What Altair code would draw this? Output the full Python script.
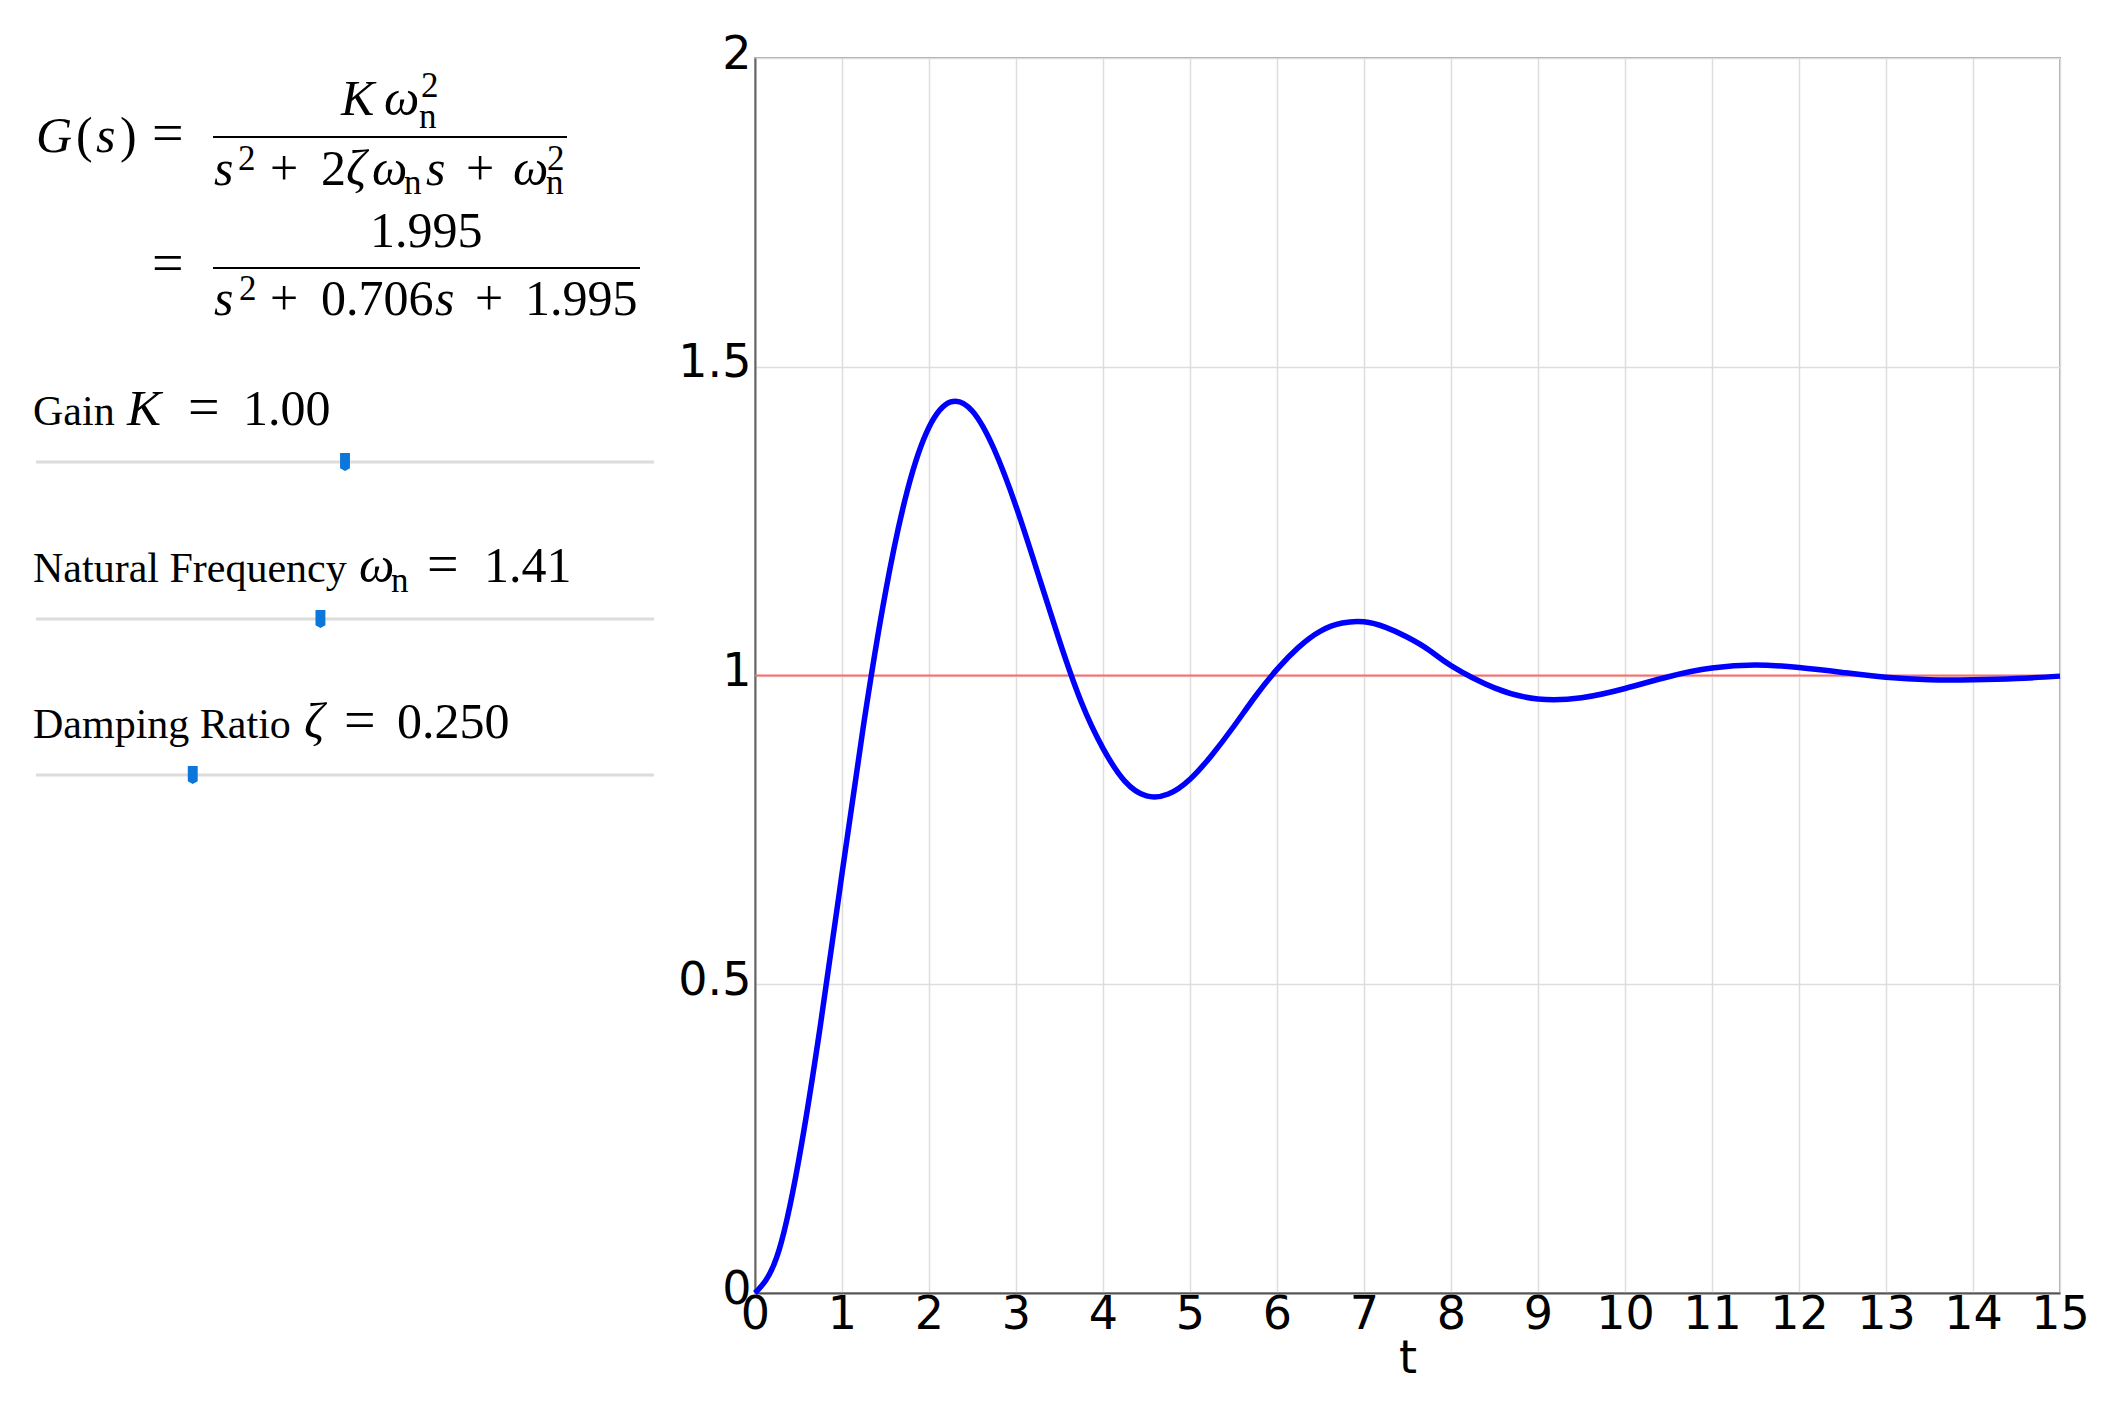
import altair as alt
import pandas as pd

# ---- step response (t in s, output y) ----
T = [0, 0.25, 0.5, 0.75, 1.0, 1.25, 1.5, 1.75, 2.0, 2.25, 2.5, 2.75, 3.0, 3.25, 3.5,
     3.75, 4.0, 4.25, 4.5, 4.75, 5.0, 5.25, 5.5, 5.75, 6.0, 6.25, 6.5, 6.75, 7.0,
     7.25, 7.5, 7.75, 8.0, 8.5, 9.0, 9.5, 10.0, 10.5, 11.0, 11.5, 12.0, 12.5, 13.0,
     13.5, 14.0, 14.5, 15.0]
Y = [0.0, 0.058, 0.213, 0.432, 0.679, 0.922, 1.135, 1.299, 1.402, 1.443, 1.428, 1.366,
     1.274, 1.166, 1.056, 0.957, 0.882, 0.829, 0.805, 0.808, 0.832, 0.871, 0.917, 0.966,
     1.010, 1.046, 1.072, 1.085, 1.087, 1.078, 1.062, 1.041, 1.016, 0.980, 0.962, 0.964,
     0.979, 0.998, 1.012, 1.017, 1.013, 1.005, 0.997, 0.993, 0.993, 0.995, 0.999]
REF = [1.0]

X_TICKS = list(range(16))
Y_TICKS = [0, 0.5, 1, 1.5, 2]

# ---- slider values ----
SLIDER_VALUES = [1.00, 1.41, 0.250]
SLIDER_MIN = [0.0, 0.1, 0.0]
SLIDER_MAX = [2.0, 2.95, 1.0]

# ---- layout (page pixels) ----
PLOT_W, PLOT_H = 1305, 1235
OX, OY = 755, 58
TRACK_X0, TRACK_X1 = 36, 654
TRACK_Y = [462, 619, 775]
THUMB_W = 9

MATH = 50
SCRIPT = 35
TEXT = 42

# (text, page x, page baseline y, font size)
ITALIC = [
    ("G", 36, 152, MATH), ("s", 96, 152, MATH),
    ("K", 341, 115, MATH), ("ω", 384, 115, MATH),
    ("s", 214, 185, MATH), ("ζ", 346, 185, MATH), ("ω", 372, 185, MATH),
    ("s", 426, 185, MATH), ("ω", 513, 185, MATH),
    ("s", 214, 315, MATH), ("s", 435, 315, MATH),
    ("K", 127, 425, 51), ("ω", 359, 582, MATH), ("ζ", 304, 738, MATH),
]
UPRIGHT = [
    ("(", 76, 152, MATH), (")", 120, 152, MATH), ("=", 152, 152, 56),
    ("n", 419, 128, SCRIPT), ("2", 421, 97, SCRIPT),
    ("2", 238, 170, SCRIPT), ("+", 270, 185, MATH), ("2", 321, 185, MATH),
    ("n", 404, 194, SCRIPT), ("+", 466, 185, MATH),
    ("n", 546, 194, SCRIPT), ("2", 547, 170, SCRIPT),
    ("=", 152, 282, 56), ("1.995", 370, 247, MATH),
    ("2", 239, 300, SCRIPT), ("+", 270, 315, MATH), ("0.706", 321, 315, MATH),
    ("+", 475, 315, MATH), ("1.995", 525, 315, MATH),
    ("Gain", 33, 425, TEXT), ("=", 188, 426, 56), ("1.00", 243, 425, MATH),
    ("Natural Frequency", 33, 582, TEXT), ("n", 391, 592, SCRIPT),
    ("=", 427, 583, 56), ("1.41", 484, 582, MATH),
    ("Damping Ratio", 33, 738, TEXT), ("=", 344, 739, 56), ("0.250", 397, 738, MATH),
]
# fraction bars: (x0, x1, y)
BARS = [(213, 567, 137), (213, 640, 268)]


def pieces(rows):
    return pd.DataFrame({
        "text": [r[0] for r in rows],
        "x": [r[1] - OX for r in rows],
        "y": [r[2] - OY for r in rows],
        "size": [r[3] for r in rows],
    })


resp = pd.DataFrame({"t": T, "y": Y})
ref = pd.DataFrame({"ref": REF})

bars = pd.DataFrame({
    "x": [b[0] - OX for b in BARS],
    "x2": [b[1] - OX for b in BARS],
    "y": [b[2] - OY for b in BARS],
})
tracks = pd.DataFrame({
    "x": [TRACK_X0 - OX] * 3,
    "x2": [TRACK_X1 - OX] * 3,
    "y": [v - OY for v in TRACK_Y],
})
thumb_x = []
for v, lo, hi in zip(SLIDER_VALUES, SLIDER_MIN, SLIDER_MAX):
    frac = (v - lo) / (hi - lo)
    thumb_x.append(TRACK_X0 + THUMB_W / 2 + frac * (TRACK_X1 - TRACK_X0 - THUMB_W) - OX)
thumbs = pd.DataFrame({"x": thumb_x, "y": [v - OY for v in TRACK_Y]})

px = dict(scale=None, axis=None)

x_enc = alt.X("t:Q", scale=alt.Scale(domain=[0, 15], nice=False, zero=False),
              axis=alt.Axis(values=X_TICKS, title="t", grid=True, ticks=False,
                            labelFlush=False, labelOverlap=False, labelPadding=-1,
                            domainColor="#555555", domainWidth=2,
                            titleBaseline="alphabetic", titleY=79))
y_enc = alt.Y("y:Q", scale=alt.Scale(domain=[0, 2], nice=False),
              axis=alt.Axis(values=Y_TICKS, title=None, format="~g", grid=True, ticks=False,
                            labelBaseline="alphabetic", labelOffset=10, labelPadding=4,
                            labelFlush=False, labelOverlap=False,
                            domainColor="#666666", domainWidth=2))

line = alt.Chart(resp).mark_line(color="#0000ff", strokeWidth=5.5,
                                 interpolate="natural").encode(x=x_enc, y=y_enc)

ref_rule = alt.Chart(ref).mark_rule(color="#ff6a6a", strokeWidth=2).encode(
    y=alt.Y("ref:Q"))

bar_rule = alt.Chart(bars).mark_rule(color="black", strokeWidth=2).encode(
    x=alt.X("x:Q", **px), x2="x2:Q", y=alt.Y("y:Q", **px))

track_rule = alt.Chart(tracks).mark_rule(color="#dcdcdc", strokeWidth=3).encode(
    x=alt.X("x:Q", **px), x2="x2:Q", y=alt.Y("y:Q", **px))

thumb_pts = alt.Chart(thumbs).mark_point(
    shape="M-0.55,-1L0.55,-1L0.55,0.7L0,1L-0.55,0.7Z", filled=True,
    color="#0b76db", opacity=1, size=324).encode(
    x=alt.X("x:Q", **px), y=alt.Y("y:Q", **px))


def text_layer(df, style):
    return alt.Chart(df).mark_text(
        align="left", baseline="alphabetic", font="Liberation Serif",
        fontStyle=style, color="black").encode(
        x=alt.X("x:Q", **px), y=alt.Y("y:Q", **px), text="text:N",
        size=alt.Size("size:Q", scale=None, legend=None))


chart = alt.layer(
    ref_rule, line, bar_rule, track_rule, thumb_pts,
    text_layer(pieces(ITALIC), "italic"), text_layer(pieces(UPRIGHT), "normal"),
).properties(
    width=PLOT_W, height=PLOT_H,
    autosize=alt.AutoSizeParams(type="none"),
    padding={"left": OX - 8, "top": OY - 8, "right": 45, "bottom": 100},
).configure_view(
    stroke="#a8a8a8", strokeWidth=2
).configure_axis(
    labelFont="DejaVu Sans", labelFontSize=46, labelColor="black",
    titleFont="DejaVu Sans", titleFontSize=46, titleFontWeight="normal", titleColor="black",
    gridColor="#dddddd", gridWidth=1.5,
)

chart.save("out.html", embed_options={"renderer": "svg", "actions": False})
